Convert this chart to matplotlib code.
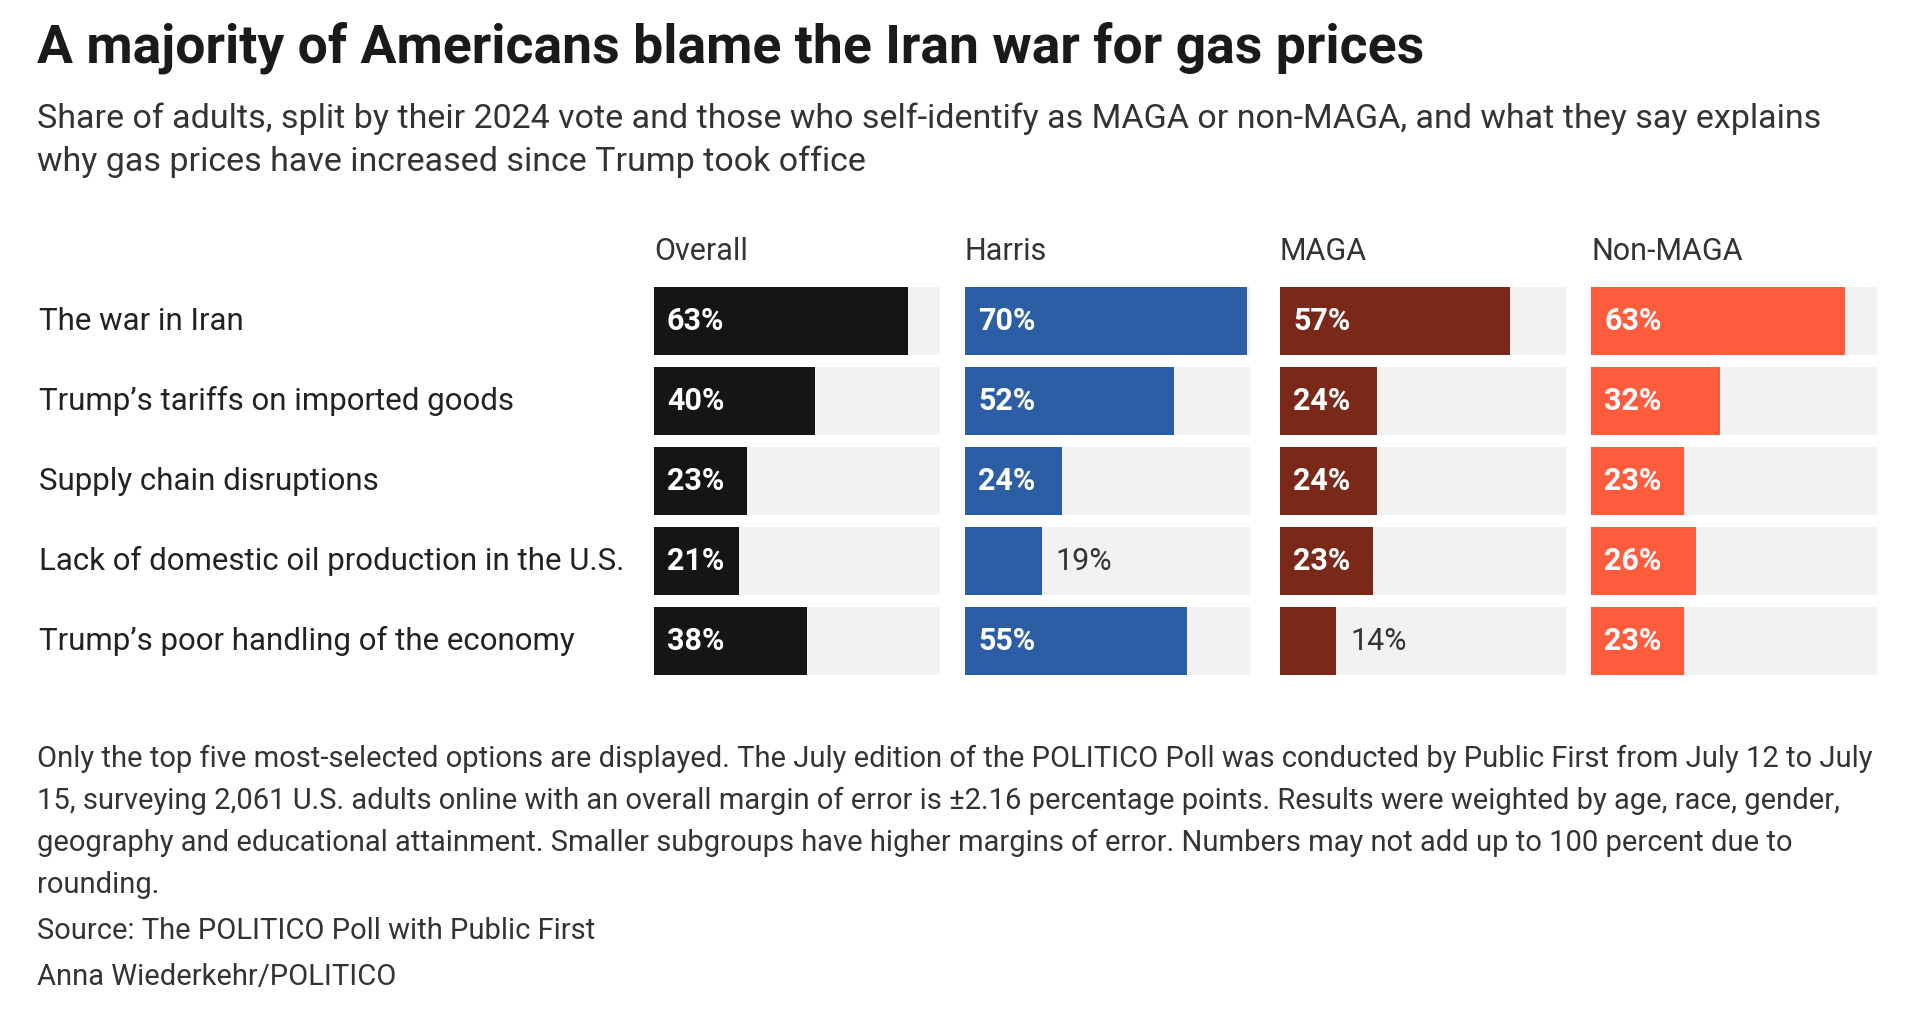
import matplotlib
matplotlib.use("Agg")
import matplotlib.pyplot as plt
from matplotlib import transforms

plt.rcParams['font.family'] = ['Roboto', 'DejaVu Sans']

# data
reasons = ["The war in Iran",
           "Trump\u2019s tariffs on imported goods",
           "Supply chain disruptions",
           "Lack of domestic oil production in the U.S.",
           "Trump\u2019s poor handling of the economy"]
groups = ["Overall", "Harris", "MAGA", "Non-MAGA"]
overall = [63, 40, 23, 21, 38]
harris = [70, 52, 24, 19, 55]
maga = [57, 24, 24, 23, 14]
non_maga = [63, 32, 23, 26, 23]
values = [overall, harris, maga, non_maga]
colors = ["#151515", "#2b5ea5", "#7a2818", "#ff5b3d"]

title = "A majority of Americans blame the Iran war for gas prices"
subtitle = ["Share of adults, split by their 2024 vote and those who self-identify as MAGA or non-MAGA, and what they say explains",
            "why gas prices have increased since Trump took office"]
notes = ["Only the top five most-selected options are displayed. The July edition of the POLITICO Poll was conducted by Public First from July 12 to July",
         "15, surveying 2,061 U.S. adults online with an overall margin of error is \u00b12.16 percentage points. Results were weighted by age, race, gender,",
         "geography and educational attainment. Smaller subgroups have higher margins of error. Numbers may not add up to 100 percent due to",
         "rounding."]
source = "Source: The POLITICO Poll with Public First"
credit = "Anna Wiederkehr/POLITICO"

W, H = 1920, 1025
fig = plt.figure(figsize=(W / 100, H / 100), dpi=100)
fig.patch.set_facecolor("white")

def fy(px):
    return 1 - px / H

fig.text(37 / W, fy(48), title, fontsize=38.5, fontweight='bold', color="#1a1a1a", va='center')
for i, line in enumerate(subtitle):
    fig.text(37 / W, fy(119 + i * 43), line, fontsize=24.5, color="#333333", va='center')

xmax = 71
col_left = [654, 965, 1280, 1591]
col_w = 286
ax_top, ax_h = 281, 400

for j, (g, vals, c) in enumerate(zip(groups, values, colors)):
    ax = fig.add_axes([col_left[j] / W, fy(ax_top + ax_h), col_w / W, ax_h / H])
    ax.set_xlim(0, xmax)
    ax.set_ylim(4.5, -0.5)
    ax.axis('off')
    ypos = list(range(len(reasons)))
    ax.barh(ypos, [xmax] * len(reasons), height=0.86, color="#f2f2f2")
    ax.barh(ypos, vals, height=0.86, color=c)
    for y, v in zip(ypos, vals):
        if v >= 20:
            ax.annotate(f"{v}%", (0, y), xytext=(13, 0), textcoords='offset pixels',
                        va='center', ha='left', fontsize=22, fontweight='bold', color='white')
        else:
            ax.annotate(f"{v}%", (v, y), xytext=(14, 0), textcoords='offset pixels',
                        va='center', ha='left', fontsize=22, color='#333333')
    fig.text(col_left[j] / W, fy(251), g, fontsize=22, color="#333333", va='center')
    if j == 0:
        tr = transforms.blended_transform_factory(fig.transFigure, ax.transData)
        for y, r in zip(ypos, reasons):
            ax.text(39 / W, y, r, transform=tr, fontsize=22.5, color="#222222",
                    va='center', ha='left')

for i, line in enumerate(notes):
    fig.text(37 / W, fy(759 + i * 42), line, fontsize=21, color="#333333", va='center')
fig.text(37 / W, fy(931), source, fontsize=21, color="#333333", va='center')
fig.text(37 / W, fy(977), credit, fontsize=21, color="#333333", va='center')

fig.savefig("out.png", dpi=100, facecolor="white")
